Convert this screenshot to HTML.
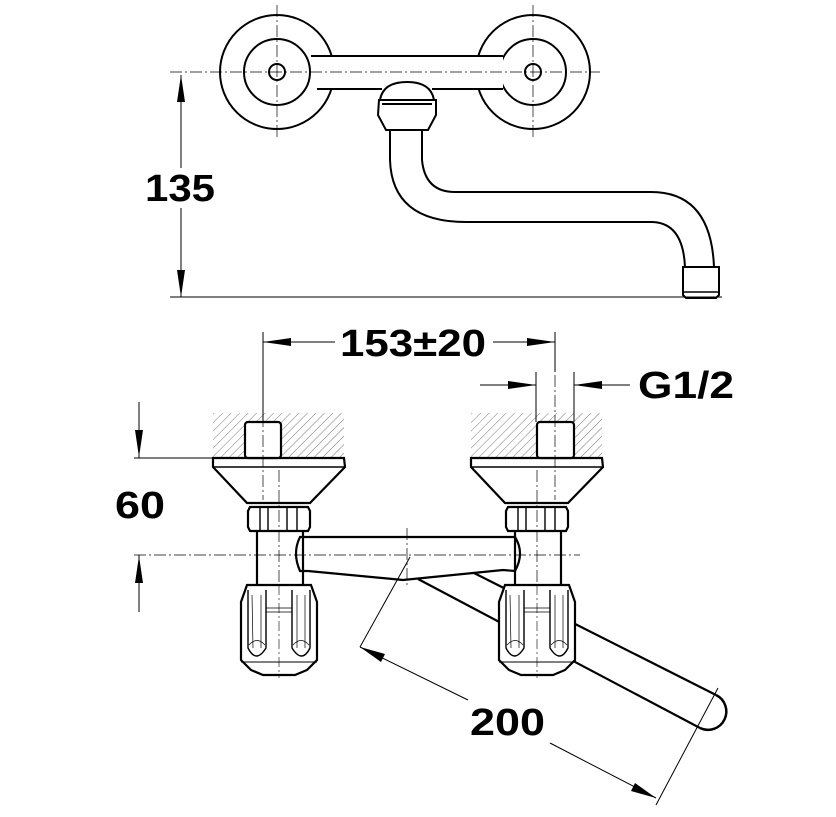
<!DOCTYPE html>
<html><head><meta charset="utf-8"><style>
html,body{margin:0;padding:0;background:#fff}
svg{display:block}
text{font-family:"Liberation Sans",Arial,sans-serif;font-weight:bold;fill:#000}
</style></head><body>
<svg width="836" height="817" viewBox="0 0 836 817" xmlns="http://www.w3.org/2000/svg">
<defs>
<pattern id="h" width="6" height="6" patternUnits="userSpaceOnUse" patternTransform="rotate(45)">
<line x1="0" y1="0" x2="0" y2="6" stroke="#555" stroke-width="0.8"/>
</pattern>
<g id="knob">
<path d="M-32,585 L32,585 L38,602 L38,660 L28,670 L16,675 L-16,675 L-28,670 L-38,660 L-38,602 Z" fill="#fff" stroke="#000" stroke-width="2.2"/>
<line x1="-38" y1="662" x2="38" y2="662" stroke="#000" stroke-width="1"/>
<path d="M-31,590 L-31,648 Q-23,664 -13,648 L-13,590" fill="none" stroke="#000" stroke-width="1.4"/>
<path d="M13,590 L13,648 Q23,664 31,648 L31,590" fill="none" stroke="#000" stroke-width="1.4"/>
<path d="M-27,595 L-26,648 M-18,595 L-18,648 M18,595 L18,648 M26,595 L26,648" stroke="#000" stroke-width="0.7"/>
<path d="M-13,608 L13,608 M-13,612 L13,612" stroke="#000" stroke-width="0.8"/>
<path d="M-30,645 Q-22,636 -14,645 M14,645 Q22,636 30,645" fill="none" stroke="#000" stroke-width="0.7"/>
<line x1="0" y1="585" x2="0" y2="678" stroke="#000" stroke-width="0.6" stroke-dasharray="10,3,2,3"/>
</g>
<g id="unit">
<rect x="-66" y="413" width="131" height="45" fill="url(#h)"/>
<path d="M-66,458 L65,458 L66,467 L31,503 L-32,503 L-66,467 Z" fill="#fff" stroke="#000" stroke-width="2.2"/>
<line x1="-66" y1="467" x2="66" y2="467" stroke="#000" stroke-width="1.6"/>
<path d="M-29,507 L29,507 L31,511 L31,527 L29,531 L-29,531 L-31,527 L-31,511 Z" fill="#fff" stroke="#000" stroke-width="2.2"/>
<path d="M-19,507 V531 M-11,507 V531 M8,507 V531 M18,507 V531" stroke="#000" stroke-width="1.4"/>
<line x1="-22" y1="531" x2="-22" y2="585" stroke="#000" stroke-width="2.2"/>
<line x1="24" y1="531" x2="24" y2="585" stroke="#000" stroke-width="2.2"/>
</g>
</defs>

<!-- TOP VIEW -->
<g fill="none" stroke="#000" stroke-width="2">
<circle cx="277" cy="72" r="57"/>
<circle cx="277" cy="72" r="33"/>
<circle cx="277" cy="72" r="8"/>
<circle cx="533" cy="72" r="57"/>
<circle cx="533" cy="72" r="33"/>
<circle cx="533" cy="72" r="8"/>
</g>
<rect x="311" y="56" width="192" height="33" fill="#fff"/>
<g fill="none" stroke="#000" stroke-width="2">
<line x1="311" y1="56" x2="503" y2="56"/>
<line x1="317" y1="89" x2="382" y2="89"/>
<line x1="432" y1="89" x2="503" y2="89"/>
<path d="M380,100 Q383,82 407,82 Q431,82 434,100"/>
<path d="M379,100 L436,100 L436,115 L428,130 L386,130 L378,115 Z" fill="#fff"/>
<line x1="382" y1="104" x2="432" y2="104"/>
<path d="M390,130 L390,160 Q392,222 466,222 L651,222 Q683,222 685,267"/>
<path d="M422,130 L422,160 Q425,192 455,192 L651,192 Q711,192 714,267"/>
<path d="M683,267 L719,267 L719,295 L716,298 L686,298 L683,295 Z" fill="#fff"/>
<line x1="683" y1="292" x2="719" y2="292" stroke-width="1.5"/>
</g>
<g stroke="#000" stroke-width="0.7" stroke-dasharray="12,3,2,3" fill="none">
<line x1="170" y1="72" x2="600" y2="72"/>
<line x1="277" y1="5" x2="277" y2="138"/>
<line x1="533" y1="5" x2="533" y2="138"/>
</g>
<line x1="170" y1="297" x2="722" y2="297" stroke="#000" stroke-width="1"/>
<line x1="181" y1="75" x2="181" y2="297" stroke="#000" stroke-width="1"/>
<path d="M181,75 L177,102 L185,102 Z M181,297 L177,270 L185,270 Z" fill="#000"/>
<rect x="142" y="168" width="80" height="40" fill="#fff"/>
<text x="145" y="201" font-size="38" textLength="70" lengthAdjust="spacingAndGlyphs">135</text>

<!-- FRONT VIEW: spout behind -->
<g stroke="#000" stroke-width="2.2" fill="none">
<line x1="418" y1="579" x2="700" y2="728"/>
<line x1="472" y1="572" x2="716" y2="695"/>
<path d="M716,695 A18,18 0 0 1 700,728" stroke-width="2.5"/>
</g>

<!-- bar -->
<path d="M300,537 L515,537 Q525,553 515,571 L503,570 L403,580 L308,571 L300,571 Q292,553 300,537 Z" fill="#fff" stroke="#000" stroke-width="2.2"/>

<use href="#unit" transform="translate(279,0)"/>
<use href="#unit" transform="translate(537,0)"/>
<rect x="245" y="422" width="36" height="36" rx="3" fill="#fff" stroke="#000" stroke-width="2.2"/>
<rect x="537" y="422" width="37" height="36" rx="3" fill="#fff" stroke="#000" stroke-width="2.2"/>
<use href="#knob" transform="translate(279,0)"/>
<use href="#knob" transform="translate(537,0)"/>

<g stroke="#000" stroke-width="0.7" stroke-dasharray="12,3,2,3" fill="none">
<line x1="134" y1="555" x2="580" y2="555"/>
<line x1="263" y1="335" x2="263" y2="500"/>
<line x1="555" y1="335" x2="555" y2="500"/>
<line x1="279" y1="470" x2="279" y2="585"/>
<line x1="537" y1="470" x2="537" y2="585"/>
<line x1="407" y1="528" x2="407" y2="588"/>
</g>

<g stroke="#000" stroke-width="1" fill="none">
<line x1="263" y1="332" x2="263" y2="422"/>
<line x1="555" y1="332" x2="555" y2="372"/>
<line x1="263" y1="342" x2="335" y2="342"/>
<line x1="493" y1="342" x2="555" y2="342"/>
<line x1="536" y1="372" x2="536" y2="422"/>
<line x1="574" y1="372" x2="574" y2="422"/>
<line x1="480" y1="385" x2="536" y2="385"/>
<line x1="574" y1="385" x2="630" y2="385"/>
<line x1="134" y1="458" x2="214" y2="458"/>
<line x1="139" y1="402" x2="139" y2="458"/>
<line x1="139" y1="555" x2="139" y2="612"/>
<line x1="410" y1="557" x2="360" y2="647"/>
<line x1="718" y1="688" x2="656" y2="805"/>
<line x1="360" y1="647" x2="468" y2="700"/>
<line x1="550" y1="743" x2="656" y2="798"/>
</g>
<g fill="#000">
<path d="M263,342 L291,338 L291,346 Z M555,342 L527,338 L527,346 Z"/>
<path d="M536,385 L508,381 L508,389 Z M574,385 L602,381 L602,389 Z"/>
<path d="M139,457 L135,430 L143,430 Z M139,556 L135,583 L143,583 Z"/>
<path d="M360,647 L385,654 L381,662 Z M656,798 L631,791 L635,783 Z"/>
</g>
<text x="340" y="356" font-size="38" textLength="146" lengthAdjust="spacingAndGlyphs">153±20</text>
<text x="638" y="398" font-size="38" textLength="96" lengthAdjust="spacingAndGlyphs">G1/2</text>
<text x="115" y="518" font-size="38" textLength="50" lengthAdjust="spacingAndGlyphs">60</text>
<text x="470" y="735" font-size="38" textLength="75" lengthAdjust="spacingAndGlyphs">200</text>
</svg>
</body></html>
